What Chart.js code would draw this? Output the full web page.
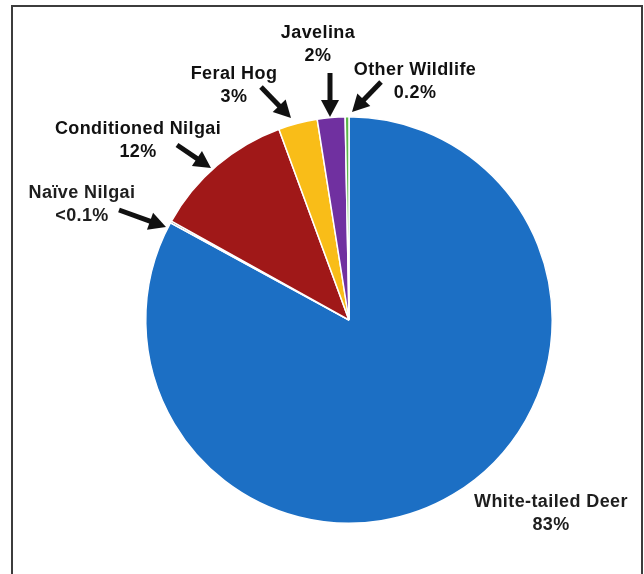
<!DOCTYPE html>
<html>
<head>
<meta charset="utf-8">
<script src="https://cdn.jsdelivr.net/npm/chart.js@4"></script>
<style>
  body { margin: 0; background: #fff; }
  #c1 { display: block; }
</style>
</head>
<body>
<canvas id="c1" width="644" height="574"></canvas>
<script>
"use strict";

// slices, clockwise from 12 o'clock
let names = ['White-tailed Deer', 'Naïve Nilgai', 'Conditioned Nilgai', 'Feral Hog', 'Javelina', 'Other Wildlife'];
let shares = [82.9, 0.15, 11.3, 3.1, 2.2, 0.3];
let pctText = ['83%', '<0.1%', '12%', '3%', '2%', '0.2%'];
let colors = ['#1c6fc4', '#111111', '#a01818', '#f9bd18', '#7030a0', '#5cb848'];

// label spots (text centre) and arrows [fromX, fromY, tipX, tipY]; deer has no arrow
let labelPos = [[551, 502], [82, 193], [138, 129], [234, 74], [318, 33], [415, 70]];
let arrows = [null, [119, 210, 166, 227], [177, 145, 211, 168], [261, 87, 291, 118], [330, 73, 330, 117], [381, 82, 352, 112]];

function arrow(ctx, x1, y1, x2, y2) {
    let a = Math.atan2(y2 - y1, x2 - x1);
    let hl = 17, hw = 9;
    let bx = x2 - hl * Math.cos(a), by = y2 - hl * Math.sin(a);
    ctx.beginPath();
    ctx.moveTo(x1, y1);
    ctx.lineTo(bx + 2 * Math.cos(a), by + 2 * Math.sin(a));
    ctx.lineWidth = 5;
    ctx.strokeStyle = '#111';
    ctx.stroke();
    ctx.beginPath();
    ctx.moveTo(x2, y2);
    ctx.lineTo(bx + hw * Math.sin(a), by - hw * Math.cos(a));
    ctx.lineTo(bx - hw * Math.sin(a), by + hw * Math.cos(a));
    ctx.closePath();
    ctx.fillStyle = '#111';
    ctx.fill();
}

let frame = {
    id: 'frame',
    beforeDraw(chart) {
        let ctx = chart.ctx;
        ctx.save();
        ctx.fillStyle = '#fff';
        ctx.fillRect(0, 0, chart.width, chart.height);
        ctx.strokeStyle = '#3c3c3c';
        ctx.lineWidth = 2;
        ctx.strokeRect(12, 6, 630, 620);
        ctx.restore();
    },
    afterDraw(chart) {
        let ctx = chart.ctx;
        ctx.save();
        ctx.font = 'bold 18px "Liberation Sans", Arial, sans-serif';
        ctx.letterSpacing = '0.4px';
        ctx.fillStyle = '#1e1e1e';
        ctx.textAlign = 'center';
        ctx.textBaseline = 'middle';
        names.forEach((n, i) => {
            let [x, y] = labelPos[i];
            ctx.fillText(n, x, y);
            ctx.fillText(pctText[i], x, y + 23);
            if (arrows[i]) arrow(ctx, ...arrows[i]);
        });
        ctx.restore();
    }
};

let c1 = document.querySelector('#c1');
let chart1 = new Chart(c1, {
    type: 'pie',
    data: {
        labels: names,
        datasets: [{
            data: shares,
            backgroundColor: colors,
            borderColor: '#fff',
            borderWidth: 1.5,
        }],
    },
    options: {
        responsive: false,
        animation: false,
        layout: { padding: { left: 145, top: 116, right: 91, bottom: 50 } },
        plugins: { legend: { display: false }, tooltip: { enabled: false } },
    },
    plugins: [frame],
});
</script>
</body>
</html>
